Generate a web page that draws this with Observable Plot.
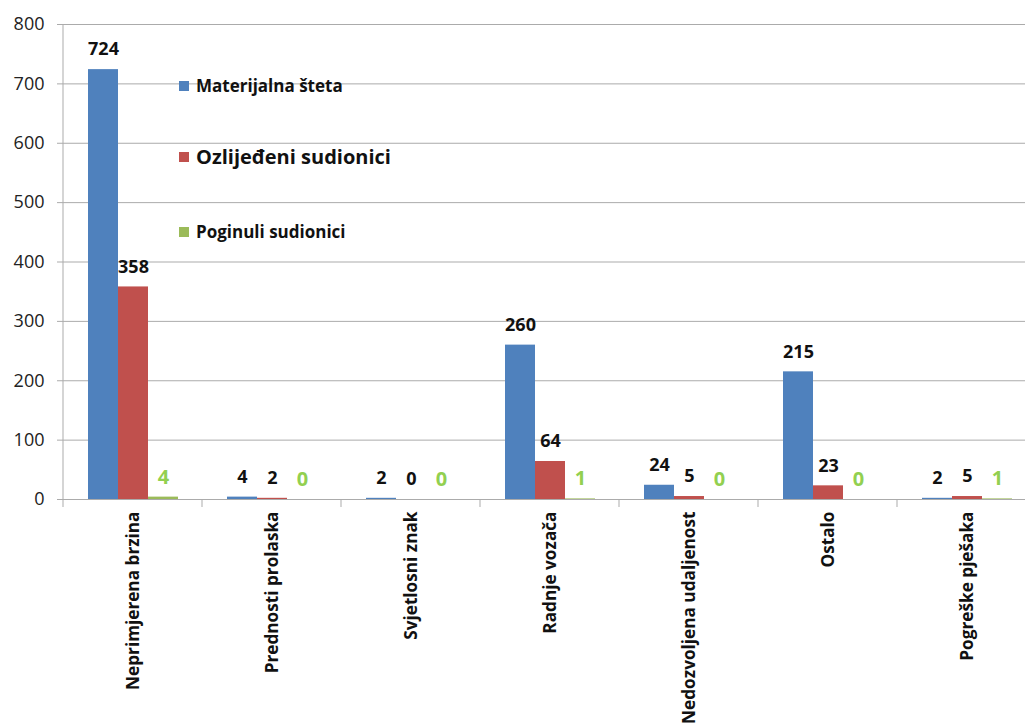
<!DOCTYPE html>
<html>
<head>
<meta charset="utf-8">
<script src="https://cdn.jsdelivr.net/npm/d3@7"></script>
<script src="https://cdn.jsdelivr.net/npm/@observablehq/plot@0.6"></script>
<style>
  html, body { margin: 0; padding: 0; overflow: hidden; background: #fff; }
  #wrap { position: relative; width: 1025px; height: 726px; overflow: hidden; }
  .legend { position: absolute; left: 179px; font-family: "Open Sans", sans-serif; font-weight: bold; color: #111; display: flex; align-items: center; white-space: nowrap; }
  .legend .sw { display: inline-block; width: 10px; height: 10px; margin-right: 7px; }
</style>
</head>
<body>
<div id="wrap"></div>
<script>
const categories = ["Neprimjerena brzina", "Prednosti prolaska", "Svjetlosni znak", "Radnje vozača", "Nedozvoljena udaljenost", "Ostalo", "Pogreške pješaka"];
const seriesNames = ["Materijalna šteta", "Ozlijeđeni sudionici", "Poginuli sudionici"];
const materijalna = [724, 4, 2, 260, 24, 215, 2];
const ozlijedeni = [358, 2, 0, 64, 5, 23, 5];
const poginuli = [4, 0, 0, 1, 0, 0, 1];
const seriesColors = ["#4F81BD", "#C0504D", "#9BBB59"];
const yTicks = [0, 100, 200, 300, 400, 500, 600, 700, 800];

const seriesValues = [materijalna, ozlijedeni, poginuli];
const data = [];
categories.forEach((c, i) => {
  seriesNames.forEach((s, j) => data.push({cat: c, series: s, value: seriesValues[j][i]}));
});

const font = "'Open Sans', sans-serif";

const chart = Plot.plot({
  width: 1037,
  height: 726,
  marginLeft: 61,
  marginRight: 0,
  marginTop: 24,
  marginBottom: 227,
  style: {maxWidth: "none", fontFamily: font, background: "white", overflow: "hidden"},
  fx: {domain: categories, padding: 0, paddingInner: 0, paddingOuter: 0, axis: null},
  x: {domain: seriesNames, paddingInner: 0, paddingOuter: 0.75, axis: null},
  y: {domain: [0, 800], axis: null},
  color: {domain: seriesNames, range: seriesColors},
  marks: [
    Plot.gridY(yTicks, {stroke: "#ababab", strokeOpacity: 1, strokeWidth: 1}),
    Plot.axisY(yTicks, {anchor: "left", label: null, tickSize: 6, tickPadding: 13, stroke: "#ababab", fill: "#222", fontSize: 18, tickFormat: d => String(d)}),
    Plot.barY(data, {fx: "cat", x: "series", y: "value", fill: "series"}),
    Plot.text(data.filter(d => d.series !== seriesNames[2]), {fx: "cat", x: "series", y: "value", text: d => String(d.value), dy: -20, fill: "#111", fontWeight: "bold", fontSize: 18}),
    Plot.text(data.filter(d => d.series === seriesNames[2]), {fx: "cat", x: "series", y: "value", text: d => String(d.value), dy: -20, fill: "#92D050", fontWeight: "bold", fontSize: 20}),
    Plot.axisFx({anchor: "bottom", label: null, tickSize: 0, tickPadding: 12, tickRotate: -90, fontSize: 17.2, fontWeight: "bold", fill: "#111"})
  ]
});

// axis line and category boundary ticks, positioned through the chart's own scales
const fxScale = Plot.scale({fx: chart.scale("fx")});
const yScale = Plot.scale({y: chart.scale("y")});
const fxInfo = chart.scale("fx");
const step = fxInfo.step !== undefined ? fxInfo.step : (fxInfo.range[1] - fxInfo.range[0]) / categories.length;
const bounds = categories.map(c => fxScale.apply(c));
bounds.push(bounds[bounds.length - 1] + step);
const y0 = yScale.apply(0), yTop = yScale.apply(800);
const g = d3.select(chart).append("g").attr("stroke", "#ababab").attr("stroke-width", 1).attr("fill", "none");
bounds.forEach(x => g.append("line").attr("x1", x).attr("x2", x).attr("y1", y0).attr("y2", y0 + 8));
g.append("line").attr("x1", bounds[0]).attr("x2", bounds[0]).attr("y1", yTop).attr("y2", y0);

const wrap = document.getElementById("wrap");
wrap.appendChild(chart);

const legendRows = [
  {name: seriesNames[0], color: seriesColors[0], top: 74, size: 17},
  {name: seriesNames[1], color: seriesColors[1], top: 143, size: 20},
  {name: seriesNames[2], color: seriesColors[2], top: 220, size: 17}
];
legendRows.forEach(r => {
  const div = document.createElement("div");
  div.className = "legend";
  div.style.top = r.top + "px";
  div.style.fontSize = r.size + "px";
  div.innerHTML = `<span class="sw" style="background:${r.color}"></span><span>${r.name}</span>`;
  wrap.appendChild(div);
});
</script>
</body>
</html>
